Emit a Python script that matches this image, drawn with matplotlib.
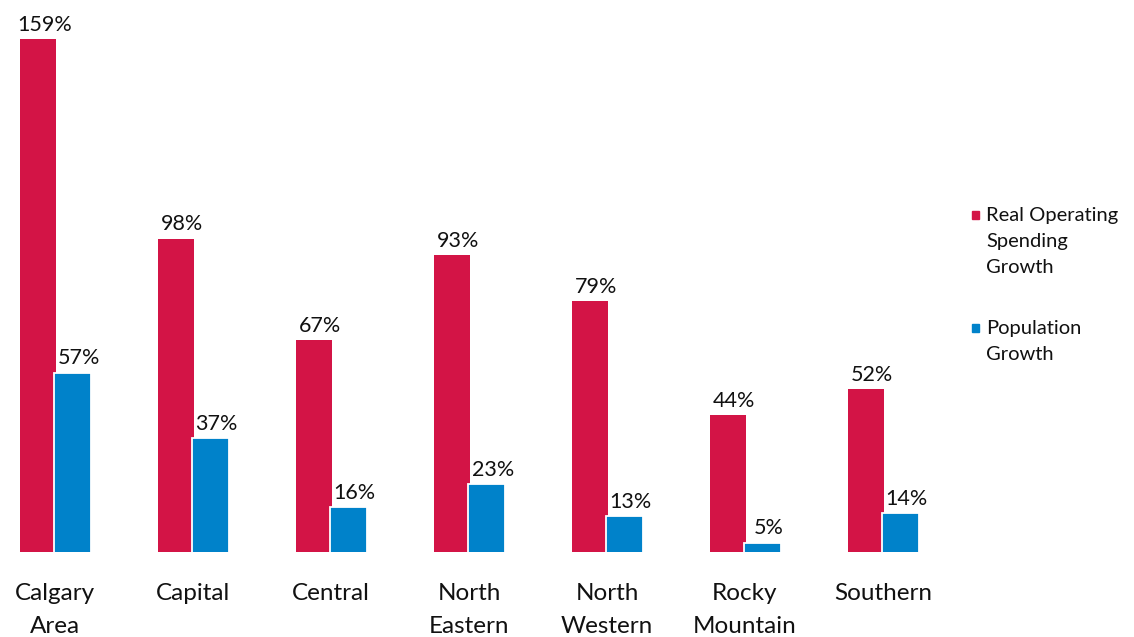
import matplotlib
matplotlib.use("Agg")
import matplotlib.pyplot as plt
from matplotlib.patches import Rectangle

# Region names and growth figures (percent)
regions = ["Calgary\nArea", "Capital", "Central", "North\nEastern",
           "North\nWestern", "Rocky\nMountain", "Southern"]
spending_growth = [159, 98, 67, 93, 79, 44, 52]
population_growth = [57, 37, 16, 23, 13, 5, 14]
series_names = ["Real Operating\nSpending\nGrowth", "Population\nGrowth"]

RED = "#D31446"
BLUE = "#0082CA"
TEXT = "#111111"
plt.rcParams["font.family"] = ["Lato", "DejaVu Sans"]

W, H = 1134, 637
fig = plt.figure(figsize=(W / 100, H / 100), dpi=100)
ax = fig.add_axes([0, (H - 552) / H, 1, 552 / H])

pitch = 138.0          # pixels per category slot
px_per_pct = 3.27      # pixels per percentage point
ax.set_xlim(-55 / pitch, (W - 55) / pitch)
ax.set_ylim(7 / px_per_pct, 559 / px_per_pct)

x = list(range(len(regions)))
red_off, red_w = -17 / pitch, 36 / pitch
blue_off, blue_w = 17.5 / pitch, 37 / pitch

ax.bar([i + red_off for i in x], spending_growth, width=red_w, color=RED,
       linewidth=0, zorder=2)
ax.bar([i + blue_off for i in x], population_growth, width=blue_w, color=BLUE,
       edgecolor="white", linewidth=1.3, zorder=3)

for i, v in zip(x, spending_growth):
    ax.annotate(f"{v}%", (i + red_off, v), xytext=(4.5, 3), textcoords="offset points",
                ha="center", va="bottom", fontsize=15.5, color=TEXT)
for i, v in zip(x, population_growth):
    ax.annotate(f"{v}%", (i + blue_off, v), xytext=(4.5, 3), textcoords="offset points",
                ha="center", va="bottom", fontsize=15.5, color=TEXT)

ax.set_xticks(x)
ax.set_xticklabels(regions, fontsize=17.5, color=TEXT, linespacing=1.72)
ax.tick_params(axis="x", length=0, pad=22)
ax.set_yticks([])
for s in ax.spines.values():
    s.set_visible(False)

# Legend, drawn in figure pixel space
def fx(px):
    return px / W

def fy(py):
    return 1 - py / H

legend_items = [(series_names[0], RED, 215), (series_names[1], BLUE, 328)]
for label, color, ycenter in legend_items:
    fig.patches.append(Rectangle((fx(972), fy(ycenter + 4)), 7 / W, 8 / H,
                                 transform=fig.transFigure, color=color))
    fig.text(fx(986), fy(ycenter - 8), label, ha="left", va="top",
             fontsize=14.5, color=TEXT, linespacing=1.66)

fig.savefig("out.png", dpi=100)
